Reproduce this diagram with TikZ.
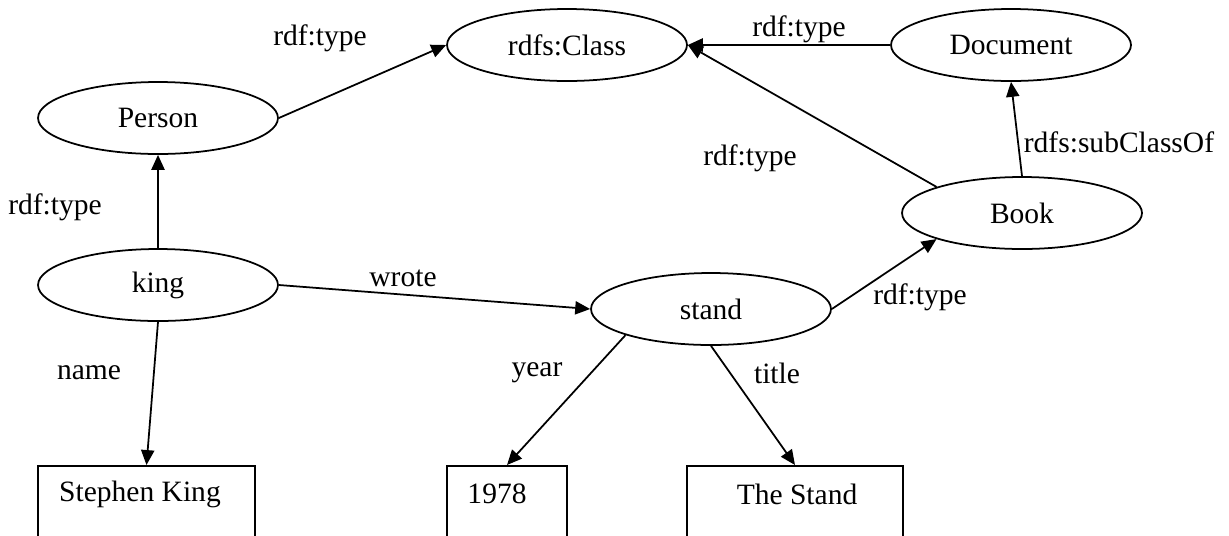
\documentclass[tikz,border=0pt]{standalone}
\usepackage{fontspec}
\setmainfont{Liberation Serif}
\usetikzlibrary{shapes.geometric}
\usetikzlibrary{arrows.meta}

\begin{document}
\begin{tikzpicture}[x=0.02cm,y=-0.02cm,->,>={Triangle[length=8.5pt,width=7.5pt]},line width=1pt,
    class node/.style={ellipse,draw,inner sep=0pt,minimum width=4.8cm,minimum height=1.44cm,font=\fontsize{16.8}{20}\selectfont},
    value box/.style={rectangle,draw,anchor=north,minimum height=2cm},
    edge label/.style={font=\fontsize{16.8}{20}\selectfont}]
  \clip (0,0) rectangle (1229,535);
  \begin{scope}
    % resources
    \node[class node] (class) at (567,45) {rdfs:Class};
    \node[class node] (document) at (1011,45) {Document};
    \node[class node] (person) at (158,118) {Person};
    \node[class node] (book) at (1022,213) {Book};
    \node[class node] (king) at (158,285) {king};
    \node[class node] (stand) at (711,309) {stand};
    % literals
    \node[value box,minimum width=4.34cm] (sk) at (146.5,465) {};
    \node[value box,minimum width=2.4cm] (year) at (507,465) {};
    \node[value box,minimum width=4.32cm] (title) at (795,465) {};
    \node[edge label] (sktext) at (140,494) {Stephen King};
    \node[edge label] (yeartext) at (497,494) {1978};
    \node[edge label] (titletext) at (797,494) {The Stand};
    % properties
    \path (person.east) edge (class.west);
    \path (document.west) edge (class.east);
    \path (book.north west) edge (class.east);
    \path (book.north) edge (document.south);
    \path (king.north) edge (person.south);
    \path (king.east) edge (stand.west);
    \path (stand.east) edge (book.south west);
    \path (king.south) edge (sk.north);
    \path (stand.south west) edge (year.north);
    \path (stand.south) edge (title.north);
    \node[edge label] (l1) at (320,38) {rdf:type};
    \node[edge label] (l2) at (799,29) {rdf:type};
    \node[edge label] (l3) at (750,158) {rdf:type};
    \node[edge label] (l4) at (1119,142) {rdfs:subClassOf};
    \node[edge label] (l5) at (55,207) {rdf:type};
    \node[edge label] (l6) at (403,278) {wrote};
    \node[edge label] (l7) at (920,297) {rdf:type};
    \node[edge label] (l8) at (89,373) {name};
    \node[edge label] (l9) at (537,373) {year};
    \node[edge label] (l10) at (777,373) {title};
  \end{scope}
\end{tikzpicture}
\end{document}
